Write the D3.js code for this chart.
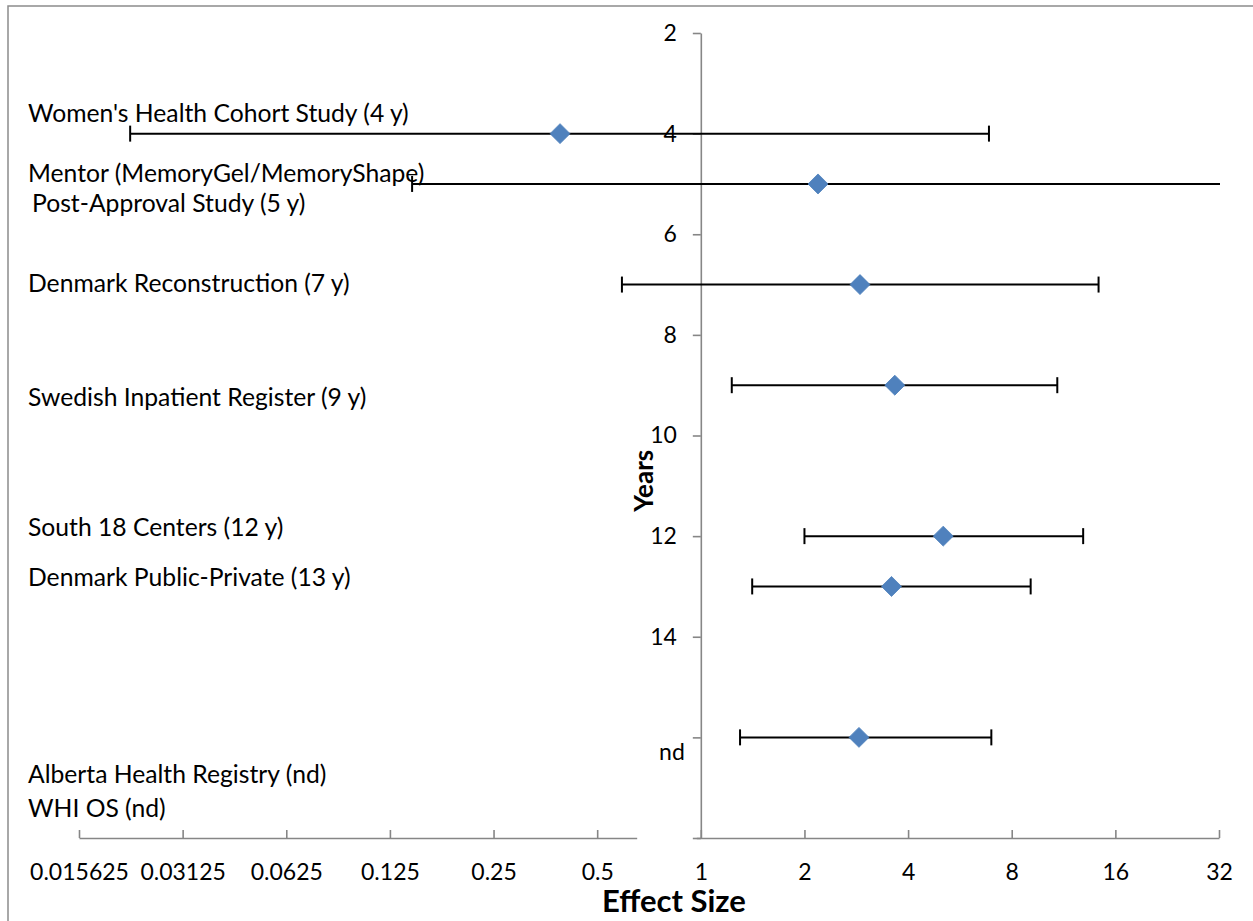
<!DOCTYPE html>
<html>
<head>
<meta charset="utf-8">
<script src="https://cdn.jsdelivr.net/npm/d3@7"></script>
<style>
  html, body { margin: 0; padding: 0; background: #fff; }
  svg { display: block; font-family: Lato, "Open Sans", sans-serif; }
</style>
</head>
<body>
<svg id="chart" width="1253" height="921"></svg>
<script>
// ---- Data -----------------------------------------------------------------
// Follow-up (years) at which each study's estimate is plotted; 16 = "nd"
const rowYears  = [4, 5, 7, 9, 12, 13, 16];
// Point estimate and 95% confidence limits of the effect size
const estimates = [0.39, 2.19, 2.90, 3.66, 5.06, 3.58, 2.88];
const lowerCI   = [0.022, 0.145, 0.59, 1.23, 2.00, 1.41, 1.30];
const upperCI   = [6.87, 36, 14.3, 10.85, 12.9, 9.08, 6.98];
// Study names shown at the left, one array of lines per row
const studyLabels = [
  ["Women's Health Cohort Study (4 y)"],
  ["Mentor (MemoryGel/MemoryShape)", " Post-Approval Study (5 y)"],
  ["Denmark Reconstruction (7 y)"],
  ["Swedish Inpatient Register (9 y)"],
  ["South 18 Centers (12 y)"],
  ["Denmark Public-Private (13 y)"],
  ["Alberta Health Registry (nd)", "WHI OS (nd)"]
];
// Axis ticks
const xTickValues = [0.015625, 0.03125, 0.0625, 0.125, 0.25, 0.5, 1, 2, 4, 8, 16, 32];
const xTickLabels = ["0.015625", "0.03125", "0.0625", "0.125", "0.25", "0.5", "1", "2", "4", "8", "16", "32"];
const yTickValues = [2, 4, 6, 8, 10, 12, 14, 16, 18];
const yTickLabels = ["2", "4", "6", "8", "10", "12", "14", "", ""];
const ndLabel = "nd";

const rows = rowYears.map((yr, i) => ({
  year: yr, est: estimates[i], lo: lowerCI[i], hi: upperCI[i], label: studyLabels[i]
}));

// ---- Layout ---------------------------------------------------------------
const svg = d3.select("#chart");
const W = 1253, H = 921;
const FONT = 23;          // tick labels
const LABEL_FONT = 24.7;  // study names
const AXIS_GREY = "#868686";

const x = d3.scaleLog().base(2).domain([0.015625, 32]).range([79, 1219]);
const y = d3.scaleLinear().domain([2, 18]).range([33, 838]);

// Outer chart frame
svg.append("rect")
  .attr("x", 8).attr("y", 6).attr("width", W).attr("height", H)
  .attr("fill", "#fff").attr("stroke", "#8c8c8c").attr("stroke-width", 1.5);

// Clip region for error bars running past the axis limits
svg.append("defs").append("clipPath").attr("id", "plotClip")
  .append("rect")
  .attr("x", x.range()[0]).attr("y", 0)
  .attr("width", x.range()[1] - x.range()[0] + 1).attr("height", H);

// ---- Axes -----------------------------------------------------------------
const xAxis = d3.axisBottom(x)
  .tickValues(xTickValues)
  .tickFormat((d, i) => xTickLabels[i])
  .tickSizeInner(-8).tickSizeOuter(0).tickPadding(26);

const xg = svg.append("g")
  .attr("transform", `translate(0,${y(18)})`)
  .call(xAxis);
xg.select(".domain").attr("stroke", AXIS_GREY).attr("stroke-width", 1.6);
xg.selectAll(".tick line").attr("stroke", AXIS_GREY).attr("stroke-width", 1.6);
xg.selectAll(".tick text").attr("fill", "#000")
  .style("font-size", FONT + "px").style("font-family", "Lato, sans-serif");

// Break in the horizontal axis just left of the vertical axis
svg.append("rect")
  .attr("x", x(0.5) + 40).attr("y", y(18) - 4)
  .attr("width", x(1) - 4 - (x(0.5) + 40)).attr("height", 8)
  .attr("fill", "#fff");

const yAxis = d3.axisLeft(y)
  .tickValues(yTickValues)
  .tickFormat((d, i) => yTickLabels[i])
  .tickSizeInner(8).tickSizeOuter(0).tickPadding(16);

const yg = svg.append("g")
  .attr("transform", `translate(${x(1)},0)`)
  .call(yAxis);
yg.select(".domain").attr("stroke", AXIS_GREY).attr("stroke-width", 1.6);
yg.selectAll(".tick line").attr("stroke", AXIS_GREY).attr("stroke-width", 1.6);
yg.selectAll(".tick text").attr("fill", "#000")
  .style("font-size", FONT + "px").style("font-family", "Lato, sans-serif");

// "nd" stands in for the 16-year tick
svg.append("text")
  .attr("x", x(1) - 16).attr("y", y(16) + 23)
  .attr("text-anchor", "end")
  .style("font-size", FONT + "px")
  .text(ndLabel);

// ---- Axis titles ----------------------------------------------------------
svg.append("text")
  .attr("transform", `translate(${x(1) - 57},${y(10.9)}) rotate(-90)`)
  .attr("text-anchor", "middle")
  .attr("dy", "0.35em")
  .style("font-size", "26px").style("font-weight", "bold")
  .text("Years");

svg.append("text")
  .attr("x", x(0.835)).attr("y", 912)
  .attr("text-anchor", "middle")
  .style("font-size", "31px").style("font-weight", "bold")
  .text("Effect Size");

// ---- Study labels ---------------------------------------------------------
// baseline offset of each label block from its row, and gap between lines
const labelShift = [-12, -2, 7, 21, 0, 0, 46];
const lineGap    = [0, 30, 0, 0, 0, 0, 34];
const labelIndent = [[28], [28, 32], [28], [28], [28], [28], [28, 28]];

rows.forEach((r, i) => {
  r.label.forEach((line, j) => {
    svg.append("text")
      .attr("x", labelIndent[i][j])
      .attr("y", y(r.year) + labelShift[i] + j * lineGap[i])
      .style("font-size", LABEL_FONT + "px")
      .text(line.trim());
  });
});

// ---- Error bars -----------------------------------------------------------
const bars = svg.append("g").attr("clip-path", "url(#plotClip)");
const CAP = 8;
const xMax = x.domain()[1];

rows.forEach(r => {
  const cy = y(r.year);
  bars.append("line")
    .attr("x1", x(r.lo)).attr("x2", x(Math.min(r.hi, xMax * 1.05)))
    .attr("y1", cy).attr("y2", cy)
    .attr("stroke", "#000").attr("stroke-width", 2);
  [r.lo, r.hi].filter(v => v <= xMax).forEach(v => {
    bars.append("line")
      .attr("x1", x(v)).attr("x2", x(v))
      .attr("y1", cy - CAP).attr("y2", cy + CAP)
      .attr("stroke", "#000").attr("stroke-width", 2);
  });
});

// ---- Point estimates (diamonds) ------------------------------------------
const diamond = d3.symbol().type(d3.symbolSquare).size(200);
svg.append("g").selectAll("path")
  .data(rows)
  .join("path")
  .attr("d", diamond)
  .attr("transform", d => `translate(${x(d.est)},${y(d.year)}) rotate(45)`)
  .attr("fill", "#4F81BD")
  .attr("stroke", "#4A7EBB")
  .attr("stroke-width", 0.75);
</script>
</body>
</html>
